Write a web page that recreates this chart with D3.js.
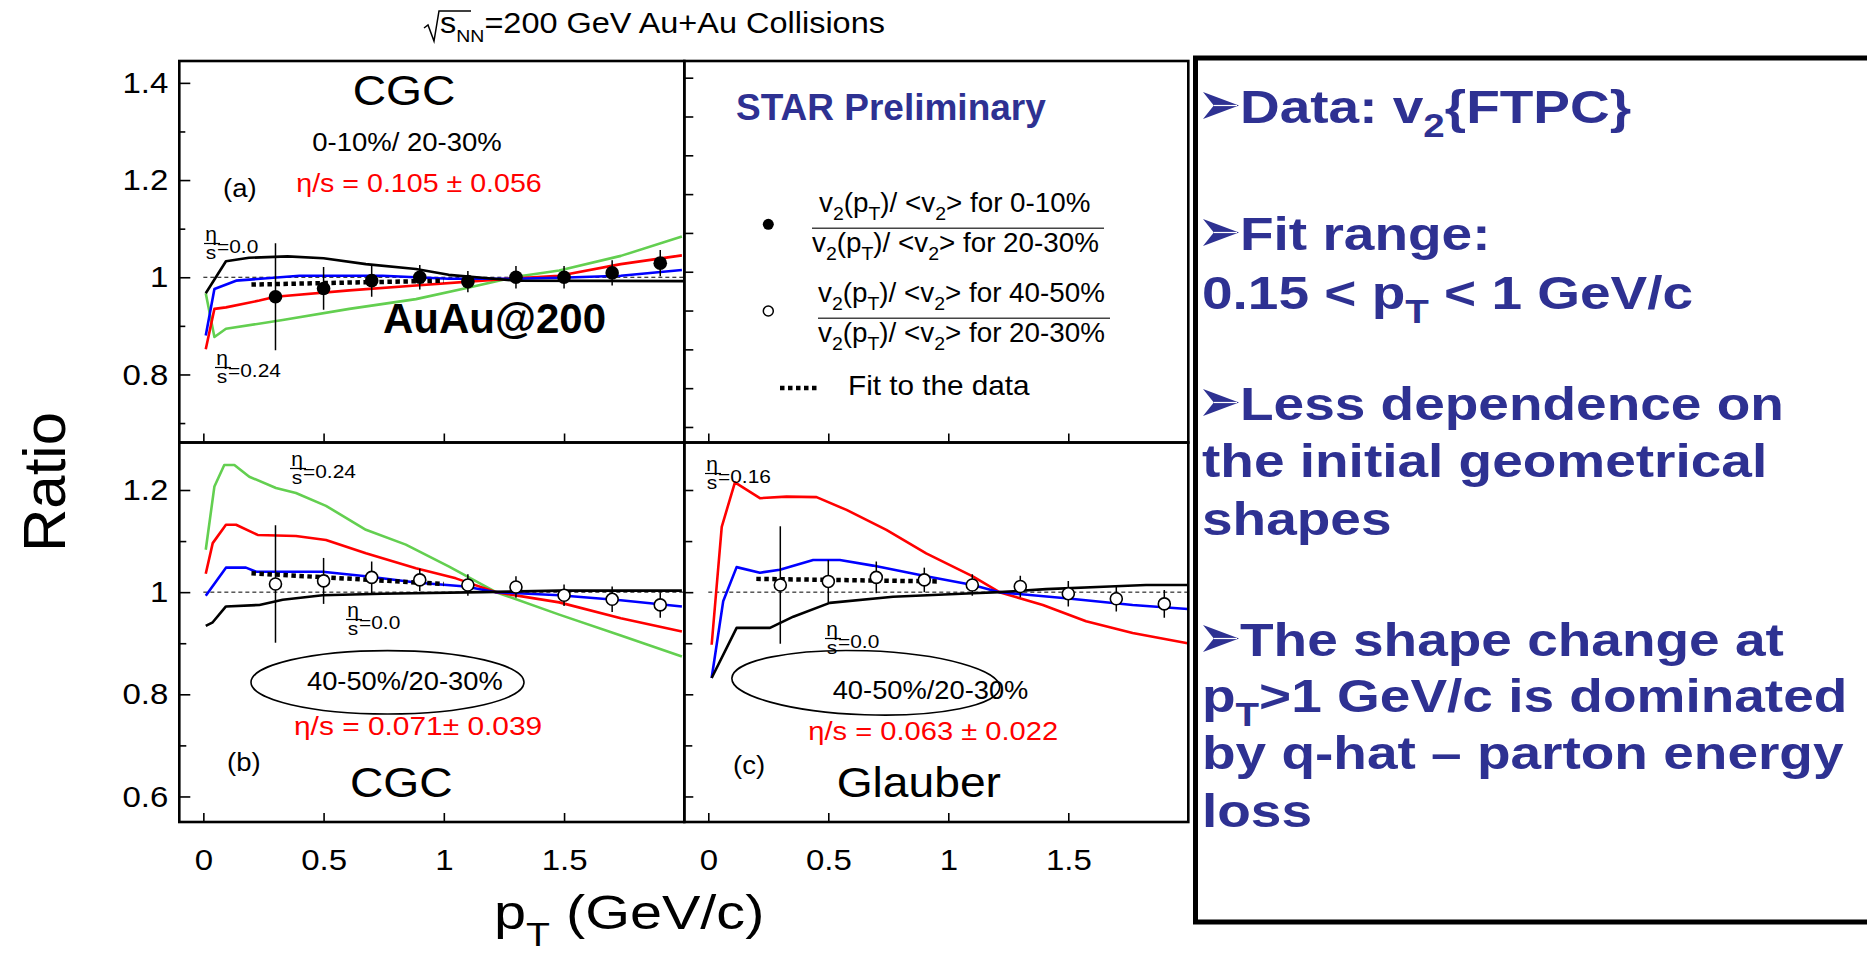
<!DOCTYPE html>
<html>
<head>
<meta charset="utf-8">
<script src="https://cdn.jsdelivr.net/npm/d3@7"></script>
<style>
  body { margin: 0; background: #fff; }
</style>
</head>
<body>
<div id="chart"></div>
<script>
// ---- data ----
// measured points (same pT bins in every panel)
var ptBins = [0.3, 0.5, 0.7, 0.9, 1.1, 1.3, 1.5, 1.7, 1.9];
var ratioA = [0.960, 0.977, 0.993, 1.000, 0.991, 1.000, 1.000, 1.009, 1.029];   // 0-10% / 20-30%
var errA   = [0.110, 0.044, 0.033, 0.025, 0.022, 0.023, 0.023, 0.026, 0.027];
var ratioB = [1.016, 1.022, 1.029, 1.024, 1.014, 1.010, 0.994, 0.986, 0.975];   // 40-50% / 20-30% (CGC panel)
var errB   = [0.115, 0.045, 0.031, 0.022, 0.021, 0.021, 0.021, 0.025, 0.025];
var ratioC = [1.014, 1.021, 1.029, 1.024, 1.014, 1.011, 0.997, 0.987, 0.977];   // 40-50% / 20-30% (Glauber panel)
var errC   = [0.115, 0.042, 0.031, 0.024, 0.021, 0.021, 0.025, 0.025, 0.027];

// fits to the data (dotted)
var fitA = [[0.2, 0.985], [1.0, 0.993]];
var fitB = [[0.2, 1.037], [1.0, 1.016]];
var fitC = [[0.2, 1.026], [0.96, 1.021]];

// hydro curves [pT, ratio]
var aBlack = [[0.01,0.967],[0.094,1.033],[0.19,1.040],[0.35,1.043],[0.5,1.039],[0.676,1.027],[0.884,1.017],[1.02,1.005],[1.16,0.999],[1.3,0.993],[2.0,0.992]];
var aBlue  = [[0.01,0.880],[0.046,0.976],[0.136,0.993],[0.40,1.003],[0.745,1.003],[1.02,0.997],[1.30,0.997],[1.48,0.999],[1.736,1.003],[1.99,1.015]];
var aRed   = [[0.01,0.852],[0.046,0.935],[0.094,0.938],[0.233,0.952],[0.30,0.960],[0.607,0.973],[0.884,0.983],[1.16,0.993],[1.30,0.998],[1.48,1.003],[1.736,1.027],[1.99,1.045]];
var aGreen = [[0.01,0.967],[0.046,0.877],[0.094,0.894],[0.33,0.912],[0.607,0.935],[0.884,0.955],[1.105,0.979],[1.30,1.001],[1.48,1.014],[1.736,1.044],[1.99,1.084]];

var bGreen = [[0.01,1.083],[0.046,1.207],[0.087,1.249],[0.129,1.249],[0.191,1.226],[0.302,1.204],[0.385,1.194],[0.51,1.169],[0.676,1.122],[0.842,1.093],[1.022,1.050],[1.217,1.0],[1.48,0.956],[1.736,0.915],[1.99,0.874]];
var bRed   = [[0.01,1.036],[0.039,1.096],[0.094,1.132],[0.136,1.132],[0.226,1.112],[0.385,1.110],[0.51,1.102],[0.676,1.076],[0.884,1.047],[1.05,1.027],[1.217,1.0],[1.48,0.980],[1.736,0.949],[1.99,0.923]];
var bBlue  = [[0.01,0.993],[0.094,1.048],[0.177,1.048],[0.22,1.040],[0.496,1.040],[0.676,1.031],[0.884,1.019],[1.09,1.011],[1.217,1.0],[1.48,0.994],[1.736,0.984],[1.99,0.972]];
var bBlack = [[0.01,0.934],[0.039,0.941],[0.094,0.972],[0.233,0.975],[0.33,0.985],[0.496,0.994],[0.745,0.997],[1.16,1.0],[1.48,1.003],[1.99,1.003]];

var cRed   = [[0.014,0.897],[0.056,1.128],[0.111,1.215],[0.215,1.184],[0.326,1.187],[0.451,1.186],[0.576,1.161],[0.742,1.122],[0.908,1.076],[1.102,1.031],[1.213,1.0],[1.394,0.975],[1.574,0.943],[1.768,0.920],[1.997,0.900]];
var cBlue  = [[0.014,0.832],[0.062,0.982],[0.118,1.049],[0.215,1.038],[0.298,1.044],[0.437,1.063],[0.548,1.063],[0.686,1.052],[0.908,1.031],[1.102,1.014],[1.213,1.0],[1.49,0.988],[1.768,0.975],[1.997,0.967]];
var cBlack = [[0.014,0.832],[0.118,0.930],[0.257,0.930],[0.354,0.952],[0.506,0.979],[0.77,0.991],[1.102,0.998],[1.213,1.0],[1.408,1.006],[1.671,1.011],[1.824,1.014],[1.997,1.014]];

// tick values / labels
var xTicks = [0, 0.5, 1, 1.5];
var yTicksA = [0.8, 1, 1.2, 1.4];
var yMinorA = [0.7, 0.9, 1.1, 1.3];
var yTicksB = [0.6, 0.8, 1, 1.2];
var yMinorB = [0.7, 0.9, 1.1];
var legTicks = [0, 0.1, 0.2, 0.3, 0.4, 0.5, 0.6, 0.7, 0.8, 0.9];

var boxLines = [
  { arrow: true,  y: 123, seg: [['Data: v'], ['2', 'sub'], ['{FTPC}']] },
  { arrow: true,  y: 250, seg: [['Fit range:']] },
  { arrow: false, y: 309, seg: [['0.15 < p'], ['T', 'sub'], [' < 1 GeV/c']] },
  { arrow: true,  y: 420, seg: [['Less dependence on']] },
  { arrow: false, y: 477, seg: [['the initial geometrical']] },
  { arrow: false, y: 535, seg: [['shapes']] },
  { arrow: true,  y: 656, seg: [['The shape change at']] },
  { arrow: false, y: 712, seg: [['p'], ['T', 'sub'], ['>1 GeV/c is dominated']] },
  { arrow: false, y: 769, seg: [['by q-hat \u2013 parton energy']] },
  { arrow: false, y: 827, seg: [['loss']] }
];

// ---- setup ----
var W = 1867, H = 963;
var FONT = '"Liberation Sans", Arial, Helvetica, sans-serif';
var SX = 1.1;        // the ROOT figure is stretched a bit horizontally
var BLUE = '#2e3192';
var GREEN = '#63cf50';

var svg = d3.select('#chart').append('svg')
  .attr('width', W).attr('height', H)
  .style('background', '#fff');

var colL = [179.3, 684.3], colR = [684.3, 1188.3];
var rowT = [61, 442.5], rowB = [442.5, 822];

var xL = d3.scaleLinear().domain([-0.1, 2.0]).range(colL);
var xR = d3.scaleLinear().domain([-0.1, 2.0]).range(colR);
var yA = d3.scaleLinear().domain([0.66, 1.445]).range([rowT[1], rowT[0]]);
var yB = d3.scaleLinear().domain([0.55, 1.293]).range([rowB[1], rowB[0]]);
var yLeg = d3.scaleLinear().domain([-0.04, 0.943]).range([rowT[1], rowT[0]]);

var defs = svg.append('defs');

// text helper, optionally with subscripts
function label(parent, x, y, str, o) {
  o = o || {};
  var fs = o.fs || 25;
  var g = parent.append('g')
    .attr('transform', 'translate(' + x + ',' + y + ') scale(' + (o.sx || SX) + ',1)');
  var t = g.append('text')
    .attr('font-family', FONT)
    .attr('font-size', fs)
    .attr('font-weight', o.bold ? 'bold' : 'normal')
    .attr('fill', o.color || '#000')
    .attr('text-anchor', o.anchor || 'start');
  if (typeof str === 'string') {
    t.text(str);
  } else {
    var shift = 0;
    str.forEach(function(s) {
      var sub = s[1] === 'sub';
      var target = sub ? fs * (o.subShift || 0.3) : 0;
      t.append('tspan')
        .attr('dy', target - shift)
        .attr('font-size', sub ? fs * (o.subScale || 0.7) : fs)
        .text(s[0]);
      shift = target;
    });
  }
  return t;
}

// eta/s fraction tag
function etaTag(parent, x, y, val) {
  parent.append('line')
    .attr('x1', x).attr('x2', x + 16).attr('y1', y).attr('y2', y)
    .attr('stroke', '#000').attr('stroke-width', 1.2);
  label(parent, x + 7, y - 3, '\u03b7', { fs: 21, anchor: 'middle', sx: 1 });
  label(parent, x + 7, y + 15, 's', { fs: 19, anchor: 'middle' });
  label(parent, x + 13, y + 9, '=' + val, { fs: 19 });
}

function panel(name, xs, ys) {
  var x0 = xs.range()[0], x1 = xs.range()[1];
  var y0 = ys.range()[1], y1 = ys.range()[0];
  defs.append('clipPath').attr('id', 'clip-' + name)
    .append('rect').attr('x', x0).attr('y', y0).attr('width', x1 - x0).attr('height', y1 - y0);
  var g = svg.append('g');
  var inner = g.append('g').attr('clip-path', 'url(#clip-' + name + ')');
  return { g: g, inner: inner, x: xs, y: ys, x0: x0, x1: x1, y0: y0, y1: y1 };
}

function curve(p, data, color) {
  var line = d3.line().x(function(d) { return p.x(d[0]); }).y(function(d) { return p.y(d[1]); });
  p.inner.append('path').datum(data)
    .attr('d', line).attr('fill', 'none')
    .attr('stroke', color).attr('stroke-width', 2.6)
    .attr('stroke-linejoin', 'round');
}

function unity(p) {
  p.inner.append('line')
    .attr('x1', p.x(0)).attr('x2', p.x(2.0))
    .attr('y1', p.y(1)).attr('y2', p.y(1))
    .attr('stroke', '#000').attr('stroke-width', 1)
    .attr('stroke-dasharray', '4,3');
}

function fitLine(p, data) {
  var line = d3.line().x(function(d) { return p.x(d[0]); }).y(function(d) { return p.y(d[1]); });
  p.inner.append('path').datum(data)
    .attr('d', line).attr('fill', 'none')
    .attr('stroke', '#000').attr('stroke-width', 4.5)
    .attr('stroke-dasharray', '4.5,3.5');
}

function points(p, vals, errs, filled) {
  var pts = ptBins.map(function(pt, i) { return { pt: pt, v: vals[i], e: errs[i] }; });
  p.inner.selectAll(null).data(pts).enter().append('line')
    .attr('x1', function(d) { return p.x(d.pt); })
    .attr('x2', function(d) { return p.x(d.pt); })
    .attr('y1', function(d) { return p.y(d.v - d.e); })
    .attr('y2', function(d) { return p.y(d.v + d.e); })
    .attr('stroke', '#000').attr('stroke-width', 1.5);
  p.inner.selectAll(null).data(pts).enter().append('circle')
    .attr('cx', function(d) { return p.x(d.pt); })
    .attr('cy', function(d) { return p.y(d.v); })
    .attr('r', filled ? 6.8 : 6)
    .attr('fill', filled ? '#000' : '#fff')
    .attr('stroke', '#000').attr('stroke-width', filled ? 0 : 1.6);
}

function inwardTicks(p, side, scale, vals, size) {
  var ax, tr;
  if (side === 'left') { ax = d3.axisRight(scale); tr = 'translate(' + p.x0 + ',0)'; }
  else { ax = d3.axisTop(scale); tr = 'translate(0,' + p.y1 + ')'; }
  p.g.append('g').attr('transform', tr)
    .call(ax.tickValues(vals).tickSize(size).tickFormat(''))
    .call(function(s) {
      s.select('.domain').remove();
      s.selectAll('line').attr('stroke', '#000').attr('stroke-width', 1.6);
    });
}

function frame(p) {
  p.g.append('rect')
    .attr('x', p.x0).attr('y', p.y0)
    .attr('width', p.x1 - p.x0).attr('height', p.y1 - p.y0)
    .attr('fill', 'none').attr('stroke', '#000').attr('stroke-width', 2.6);
}

function styleLabels(s, fs) {
  s.select('.domain').remove();
  s.selectAll('text')
    .attr('font-family', FONT).attr('font-size', fs).attr('fill', '#000')
    .attr('transform', 'scale(' + SX + ',1)');
}

// ---- panel (a) ----
var pa = panel('a', xL, yA);
unity(pa);
curve(pa, aGreen, GREEN);
curve(pa, aRed, '#ff0000');
curve(pa, aBlue, '#0000ff');
curve(pa, aBlack, '#000');
fitLine(pa, fitA);
points(pa, ratioA, errA, true);
inwardTicks(pa, 'left', yA, yTicksA, 11);
inwardTicks(pa, 'left', yA, yMinorA, 6);
inwardTicks(pa, 'bottom', xL, xTicks, 9);
frame(pa);
pa.g.append('g').attr('transform', 'translate(' + pa.x0 + ',0)')
  .call(d3.axisLeft(yA).tickValues(yTicksA).tickSize(0).tickPadding(10).tickFormat(d3.format('')))
  .call(styleLabels, 30);

label(pa.g, 404, 105, 'CGC', { fs: 42, anchor: 'middle' });
label(pa.g, 407, 151, '0-10%/ 20-30%', { fs: 25, anchor: 'middle' });
label(pa.g, 419, 192, '\u03b7/s = 0.105 \u00b1 0.056', { fs: 26, anchor: 'middle', color: '#ff0000' });
label(pa.g, 223, 197, '(a)', { fs: 25 });
etaTag(pa.g, 204, 243.5, '0.0');
etaTag(pa.g, 215, 367.5, '0.24');
label(pa.g, 383, 333, 'AuAu@200', { fs: 42, bold: true, sx: 1 });

// ---- legend panel (upper right) ----
var pl = panel('leg', xR, yLeg);
inwardTicks(pl, 'left', yLeg, legTicks, 9);
inwardTicks(pl, 'bottom', xR, xTicks, 9);
frame(pl);
label(pl.g, 736, 120, 'STAR Preliminary', { fs: 37, bold: true, color: BLUE, sx: 1 });

var numer = function(c) { return [['v'], ['2', 'sub'], ['(p'], ['T', 'sub'], [')/ <v'], ['2', 'sub'], ['> for ' + c]]; };
pl.g.append('circle').attr('cx', 768.3).attr('cy', 224.3).attr('r', 5.5).attr('fill', '#000');
label(pl.g, 819, 212, numer('0-10%'), { fs: 27, sx: 1.03 });
pl.g.append('line').attr('x1', 812).attr('x2', 1104).attr('y1', 228.3).attr('y2', 228.3).attr('stroke', '#444').attr('stroke-width', 1.6);
label(pl.g, 812, 252, numer('20-30%'), { fs: 27, sx: 1.03 });

pl.g.append('circle').attr('cx', 768.3).attr('cy', 311).attr('r', 5).attr('fill', '#fff').attr('stroke', '#000').attr('stroke-width', 1.5);
label(pl.g, 818, 302, numer('40-50%'), { fs: 27, sx: 1.03 });
pl.g.append('line').attr('x1', 818).attr('x2', 1110).attr('y1', 318.3).attr('y2', 318.3).attr('stroke', '#444').attr('stroke-width', 1.6);
label(pl.g, 818, 342, numer('20-30%'), { fs: 27, sx: 1.03 });

pl.g.append('line').attr('x1', 780).attr('x2', 820).attr('y1', 388).attr('y2', 388)
  .attr('stroke', '#000').attr('stroke-width', 4.5).attr('stroke-dasharray', '4.5,3.5');
label(pl.g, 848, 395, 'Fit to the data', { fs: 27 });

// ---- panel (b) ----
var pb = panel('b', xL, yB);
unity(pb);
curve(pb, bGreen, GREEN);
curve(pb, bRed, '#ff0000');
curve(pb, bBlue, '#0000ff');
curve(pb, bBlack, '#000');
fitLine(pb, fitB);
points(pb, ratioB, errB, false);
inwardTicks(pb, 'left', yB, yTicksB, 11);
inwardTicks(pb, 'left', yB, yMinorB, 7);
inwardTicks(pb, 'bottom', xL, xTicks, 9);
frame(pb);
pb.g.append('g').attr('transform', 'translate(' + pb.x0 + ',0)')
  .call(d3.axisLeft(yB).tickValues(yTicksB).tickSize(0).tickPadding(10).tickFormat(d3.format('')))
  .call(styleLabels, 30);
pb.g.append('g').attr('transform', 'translate(0,' + pb.y1 + ')')
  .call(d3.axisBottom(xL).tickValues(xTicks).tickSize(0).tickPadding(27).tickFormat(d3.format('')))
  .call(styleLabels, 30);

etaTag(pb.g, 290, 468.5, '0.24');
etaTag(pb.g, 346, 619.5, '0.0');
pb.g.append('ellipse').attr('cx', 387.5).attr('cy', 682.3).attr('rx', 136.5).attr('ry', 31.7)
  .attr('fill', 'none').attr('stroke', '#000').attr('stroke-width', 1.6);
label(pb.g, 307, 689.5, '40-50%/20-30%', { fs: 26, sx: 1.05 });
label(pb.g, 294, 735, '\u03b7/s = 0.071\u00b1 0.039', { fs: 26, color: '#ff0000', sx: 1.15 });
label(pb.g, 227, 771, '(b)', { fs: 25 });
label(pb.g, 350, 797, 'CGC', { fs: 42 });

// ---- panel (c) ----
var pc = panel('c', xR, yB);
unity(pc);
curve(pc, cRed, '#ff0000');
curve(pc, cBlue, '#0000ff');
curve(pc, cBlack, '#000');
fitLine(pc, fitC);
points(pc, ratioC, errC, false);
inwardTicks(pc, 'left', yB, yTicksB, 9);
inwardTicks(pc, 'left', yB, yMinorB, 8);
inwardTicks(pc, 'bottom', xR, xTicks, 9);
frame(pc);
pc.g.append('g').attr('transform', 'translate(0,' + pc.y1 + ')')
  .call(d3.axisBottom(xR).tickValues(xTicks).tickSize(0).tickPadding(27).tickFormat(d3.format('')))
  .call(styleLabels, 30);

etaTag(pc.g, 705, 473.5, '0.16');
etaTag(pc.g, 825, 638.5, '0.0');
pc.g.append('ellipse').attr('cx', 865.8).attr('cy', 682.8).attr('rx', 134).attr('ry', 32)
  .attr('transform', 'rotate(2,865.8,682.8)')
  .attr('fill', 'none').attr('stroke', '#000').attr('stroke-width', 1.6);
label(pc.g, 832.7, 698.5, '40-50%/20-30%', { fs: 26, sx: 1.05 });
label(pc.g, 808.3, 739.5, '\u03b7/s = 0.063 \u00b1 0.022', { fs: 26, color: '#ff0000', sx: 1.12 });
label(pc.g, 733, 773.5, '(c)', { fs: 25 });
label(pc.g, 836.7, 797, 'Glauber', { fs: 42 });

// ---- axis titles and header ----
svg.append('text')
  .attr('transform', 'translate(65,482) rotate(-90)')
  .attr('text-anchor', 'middle')
  .attr('font-family', FONT).attr('font-size', 60)
  .text('Ratio');

label(svg, 494, 929, [['p'], ['T', 'sub'], [' (GeV/c)']], { fs: 48, sx: 1.2, subShift: 0.35, subScale: 0.68 });

// sqrt(s_NN) = 200 GeV Au+Au Collisions
svg.append('path')
  .attr('d', 'M424,28 L428,25 L434,41 L439,11 L471,11')
  .attr('fill', 'none').attr('stroke', '#000').attr('stroke-width', 1.5);
label(svg, 440, 33, [['s'], ['NN', 'sub'], ['=200 GeV Au+Au Collisions']], { fs: 29, sx: 1.12, subScale: 0.6, subShift: 0.3 });

// ---- text box on the right ----
var box = svg.append('g');
box.append('rect')
  .attr('x', 1195.5).attr('y', 58).attr('width', 720).attr('height', 864)
  .attr('fill', 'none').attr('stroke', '#000').attr('stroke-width', 5);

function arrowHead(g, x, base) {
  var top = base - 31, h = 27, w = 36;
  g.append('path')
    .attr('d', 'M' + x + ',' + top + ' L' + (x + w) + ',' + (top + h / 2) + ' L' + x + ',' + (top + h) +
      ' L' + (x + w * 0.3) + ',' + (top + h / 2) + ' Z')
    .attr('fill', BLUE);
  g.append('line')
    .attr('x1', x + w * 0.3).attr('y1', top + h / 2)
    .attr('x2', x + w - 2).attr('y2', top + h / 2)
    .attr('stroke', '#fff').attr('stroke-width', 1.2);
}

boxLines.forEach(function(l) {
  if (l.arrow) {
    arrowHead(box, 1203, l.y);
    label(box, 1240, l.y, l.seg, { fs: 47, bold: true, color: BLUE, sx: 1.17 });
  } else {
    label(box, 1202, l.y, l.seg, { fs: 47, bold: true, color: BLUE, sx: 1.17 });
  }
});
</script>
</body>
</html>
